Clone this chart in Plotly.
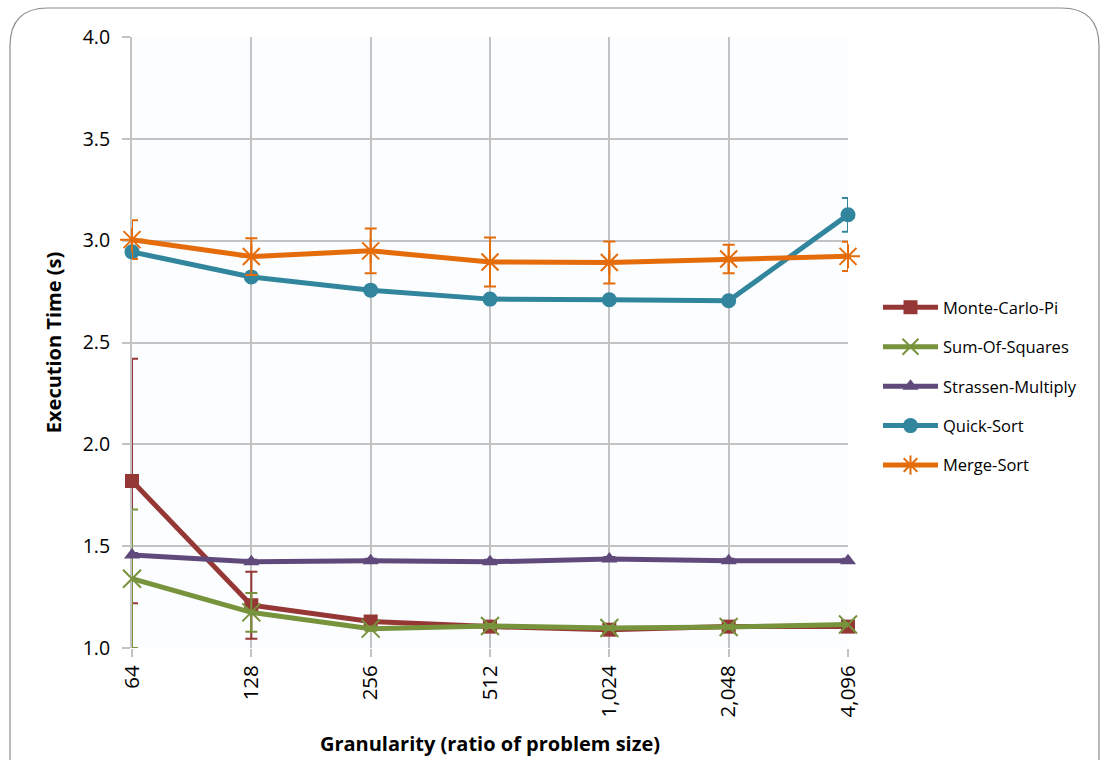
import plotly.graph_objects as go

# Granularity levels (ratio of problem size)
granularity = ["64", "128", "256", "512", "1,024", "2,048", "4,096"]

# Mean execution times (s)
monte_carlo_pi = [1.82, 1.21, 1.13, 1.105, 1.09, 1.105, 1.105]
sum_of_squares = [1.34, 1.175, 1.095, 1.108, 1.098, 1.103, 1.115]
strassen_multiply = [1.457, 1.423, 1.428, 1.423, 1.437, 1.428, 1.428]
quick_sort = [2.945, 2.822, 2.757, 2.713, 2.710, 2.705, 3.127]
merge_sort = [3.005, 2.922, 2.950, 2.895, 2.893, 2.910, 2.923]

# Error bar half-widths (s)
monte_carlo_pi_err = [0.60, 0.165, 0.01, 0.01, 0.01, 0.01, 0.01]
sum_of_squares_err = [0.34, 0.095, 0.01, 0.01, 0.01, 0.01, 0.01]
strassen_multiply_err = [0.01, 0.01, 0.01, 0.01, 0.01, 0.01, 0.01]
quick_sort_err = [0.01, 0.01, 0.01, 0.01, 0.01, 0.01, 0.083]
merge_sort_err = [0.095, 0.09, 0.11, 0.12, 0.103, 0.07, 0.072]

y_ticks = [1.0, 1.5, 2.0, 2.5, 3.0, 3.5, 4.0]

FONT = "'Open Sans', Lato, sans-serif"
pos = list(range(len(granularity)))

series = [
    ("Monte-Carlo-Pi", monte_carlo_pi, monte_carlo_pi_err, "#953735",
     dict(symbol="square", size=14)),
    ("Sum-Of-Squares", sum_of_squares, sum_of_squares_err, "#77933C",
     dict(symbol="x-thin-open", size=18, line=dict(width=2, color="#77933C"))),
    ("Strassen-Multiply", strassen_multiply, strassen_multiply_err, "#604A7B",
     dict(symbol="triangle-up", size=14)),
    ("Quick-Sort", quick_sort, quick_sort_err, "#31859C",
     dict(symbol="circle", size=15)),
    ("Merge-Sort", merge_sort, merge_sort_err, "#E46C0A",
     dict(symbol="asterisk-open", size=20, line=dict(width=2, color="#E46C0A"))),
]

fig = go.Figure()
for i, (name, vals, errs, color, marker) in enumerate(series):
    fig.add_trace(go.Scatter(
        x=pos, y=vals, name=name, mode="lines+markers",
        line=dict(color=color, width=5),
        marker=dict(color=color, **marker),
        error_y=dict(type="data", array=errs, visible=True,
                     color=color, thickness=2, width=6),
        cliponaxis=False,
        legendgroup=f"g{i}",
    ))

# Rounded outer frame of the chart area
L, R, B, T = 132, 848, 648, 37
W, H = R - L, B - T
def px(xp):
    return (xp - L) / W
def py(yp):
    return (B - yp) / H
x0, x1, y0, y1 = 10, 1099, 8, 790
r = 38
frame = (
    f"M {px(x0)},{py(y0 + r)} "
    f"Q {px(x0)},{py(y0)} {px(x0 + r)},{py(y0)} "
    f"L {px(x1 - r)},{py(y0)} "
    f"Q {px(x1)},{py(y0)} {px(x1)},{py(y0 + r)} "
    f"L {px(x1)},{py(y1)} L {px(x0)},{py(y1)} Z"
)
fig.add_shape(type="path", path=frame, xref="paper", yref="paper",
              line=dict(color="#8c8c8c", width=1.2), layer="below")

fig.update_layout(
    width=1101, height=760,
    margin=dict(l=L, r=1101 - R, t=T, b=760 - B),
    paper_bgcolor="white",
    plot_bgcolor="#FCFDFF",
    font=dict(family=FONT, color="black"),
    showlegend=True,
    legend=dict(
        x=px(878), xanchor="left", xref="paper",
        y=py(290), yanchor="top",
        font=dict(size=16.5, family=FONT),
        itemwidth=55,
        traceorder="grouped",
        tracegroupgap=15,
        bgcolor="rgba(0,0,0,0)",
    ),
    xaxis=dict(
        range=[0, len(granularity) - 1],
        tickmode="array", tickvals=pos, ticktext=granularity,
        tickangle=-90,
        tickfont=dict(size=20.5, family=FONT),
        showgrid=True, gridcolor="#C3C3C3", gridwidth=2,
        ticks="outside", ticklen=8, tickcolor="#C3C3C3", tickwidth=2,
        showline=False, zeroline=False,
        layer="below traces",
        automargin=False,
        title=dict(text="<b>Granularity (ratio of problem size)</b>",
                   font=dict(size=20, family=FONT), standoff=20),
    ),
    yaxis=dict(
        range=[1.0, 4.0],
        tickmode="array", tickvals=y_ticks, tickformat=".1f",
        tickfont=dict(size=19.5, family=FONT),
        ticklabelstandoff=8,
        showgrid=True, gridcolor="#C3C3C3", gridwidth=2,
        ticks="outside", ticklen=8, tickcolor="#C3C3C3", tickwidth=2,
        showline=True, linecolor="#C3C3C3", linewidth=2,
        layer="below traces",
        zeroline=False,
        automargin=False,
        title=dict(text="<b>Execution Time (s)</b>",
                   font=dict(size=20, family=FONT), standoff=16),
    ),
)

fig.write_html("out.html")
